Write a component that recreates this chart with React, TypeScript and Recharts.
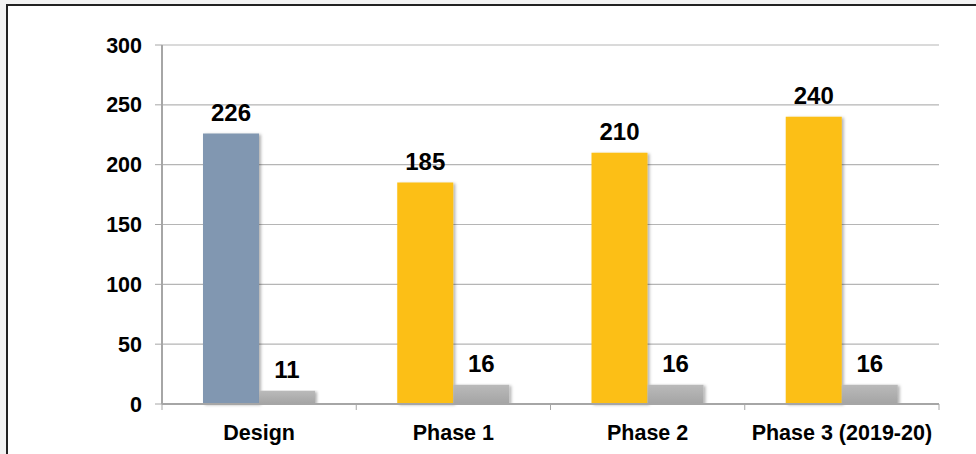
import { BarChart, Bar, XAxis, YAxis, CartesianGrid, LabelList, Cell } from "recharts";

// categories and values
const categories: string[] = ["Design", "Phase 1", "Phase 2", "Phase 3 (2019-20)"];
const mainValues: number[] = [226, 185, 210, 240];
const smallValues: number[] = [11, 16, 16, 16];
const yTicks: number[] = [0, 50, 100, 150, 200, 250, 300];

const mainColors: string[] = ["#8197b1", "#fcbf12", "#fcbf12", "#fcbf12"];

const data = categories.map((name, i) => ({
  name,
  main: mainValues[i],
  small: smallValues[i],
}));

const FONT = "'Liberation Sans', Arial, sans-serif";
const AXIS_GRAY = "#a6a6a6";

// x tick: label plus Excel-style boundary tick marks
const XTick = (props: any) => {
  const { x, y, payload, index, visibleTicksCount } = props;
  const half = payload && payload.offset ? payload.offset : 97;
  return (
    <g>
      <line x1={x - half} y1={y - 8} x2={x - half} y2={y - 2} stroke={AXIS_GRAY} strokeWidth={1} />
      {index === visibleTicksCount - 1 && (
        <line x1={x + half} y1={y - 8} x2={x + half} y2={y - 2} stroke={AXIS_GRAY} strokeWidth={1} />
      )}
      <text x={x} y={y + 28} textAnchor="middle" fontFamily={FONT} fontWeight="bold" fontSize={21.5} fill="#000">
        {payload.value}
      </text>
    </g>
  );
};

const labelStyle = { fontFamily: FONT, fontWeight: "bold", fontSize: 24, fill: "#000" };

const App = () => {
  return (
    <div style={{ position: "fixed", left: 0, top: 0, width: 976, height: 454, background: "#f3f3f3", overflow: "hidden" }}>
      <div
        style={{
          position: "absolute",
          left: 6,
          top: 4,
          width: 990,
          height: 470,
          background: "#fff",
          borderLeft: "2px solid #222",
          borderTop: "2px solid #222",
        }}
      />
      <div style={{ position: "absolute", left: 0, top: 0 }}>
        <BarChart
          width={976}
          height={454}
          data={data}
          margin={{ top: 45, right: 37, left: 0, bottom: 0 }}
          barCategoryGap={41}
          barGap={0}
        >
          <defs>
            <linearGradient id="grayGrad" x1="0" y1="0" x2="0" y2="1">
              <stop offset="0%" stopColor="#bababa" />
              <stop offset="100%" stopColor="#a4a4a4" />
            </linearGradient>
            <filter id="barShadow" x="-20%" y="-5%" width="140%" height="110%">
              <feDropShadow dx="2" dy="1" stdDeviation="1.5" floodColor="#000" floodOpacity="0.3" />
            </filter>
          </defs>
          <CartesianGrid vertical={false} stroke="#b5b5b5" strokeWidth={1.2} />
          <XAxis
            dataKey="name"
            height={50}
            axisLine={{ stroke: AXIS_GRAY, strokeWidth: 2 }}
            tickLine={false}
            tick={<XTick />}
            interval={0}
          />
          <YAxis
            width={162}
            domain={[0, 300]}
            ticks={yTicks}
            axisLine={{ stroke: AXIS_GRAY, strokeWidth: 2 }}
            tickLine={{ stroke: AXIS_GRAY }}
            tickSize={7}
            tickMargin={13}
            tick={{ fontFamily: FONT, fontWeight: "bold", fontSize: 21.5, fill: "#000" }}
          />
          <Bar dataKey="main" isAnimationActive={false} filter="url(#barShadow)">
            {data.map((d, i) => (
              <Cell key={d.name} fill={mainColors[i]} />
            ))}
            <LabelList dataKey="main" position="top" offset={13} style={labelStyle} />
          </Bar>
          <Bar dataKey="small" fill="url(#grayGrad)" isAnimationActive={false} filter="url(#barShadow)">
            <LabelList dataKey="small" position="top" offset={13} style={labelStyle} />
          </Bar>
        </BarChart>
      </div>
    </div>
  );
};

export default App;
